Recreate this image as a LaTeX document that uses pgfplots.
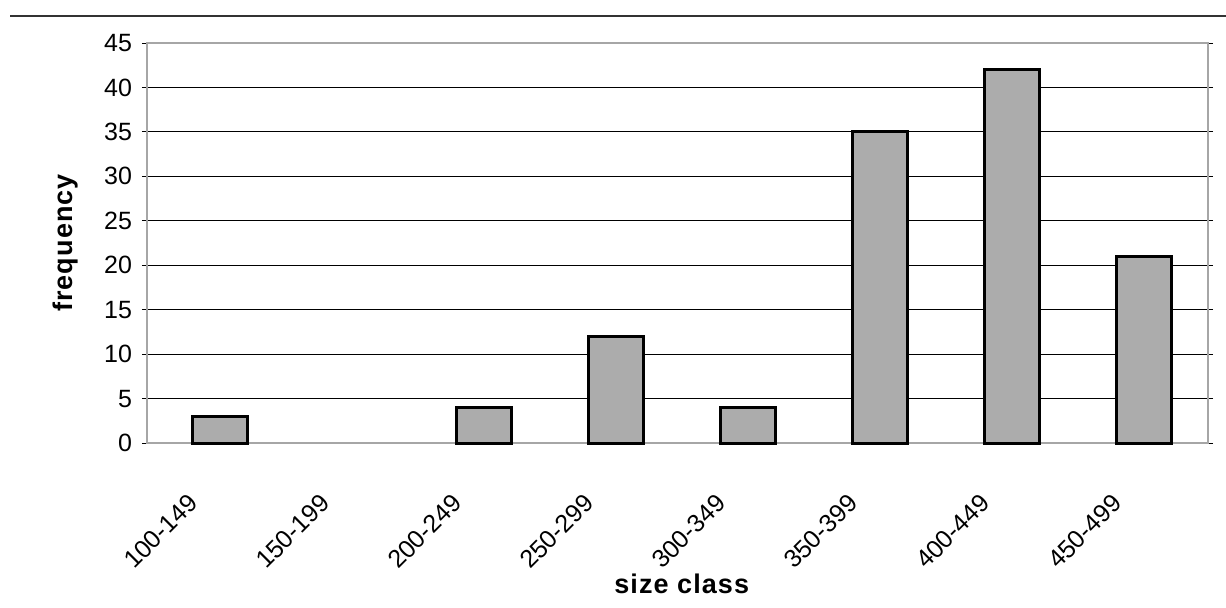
\documentclass[border=0pt]{standalone}
\usepackage{pgfplots}
\pgfplotsset{compat=1.18}
\usepackage{fontspec}
\setmainfont{Liberation Sans}

\begin{document}
\begin{tikzpicture}
\useasboundingbox (-73.5pt,-82pt) rectangle (539.5pt,221.5pt);
\begin{axis}[
    scale only axis,
    width=530.5pt, height=200pt,
    xmin=-0.553, xmax=7.485,
    ymin=0, ymax=45,
    ytick={0,5,...,45},
    xtick={0,...,7},
    xticklabels={100-149,150-199,200-249,250-299,300-349,350-399,400-449,450-499},
    /pgf/number format/assume math mode=true,
    ymajorgrids,
    major grid style={black, line width=0.5pt},
    axis line style={gray!70, line width=1pt},
    tick align=outside,
    major tick length=2.5pt,
    ytick style={black, line width=0.5pt},
    xtick style={draw=none},
    tick label style={font=\fontsize{12.5}{15}\selectfont},
    yticklabel style={xshift=-1.5pt},
    xticklabel style={xshift=-11pt, yshift=-23pt, rotate=45, anchor=east},
    label style={font=\fontsize{13.5}{16}\selectfont\bfseries\addfontfeatures{LetterSpace=4}},
    ylabel={frequency},
    xlabel={size class},
    ylabel style={at={(axis description cs:-0.077,0.5)}, anchor=center},
    xlabel style={at={(axis description cs:0.504,-0.352)}, anchor=center},
    clip=false,
]
% the class 150-199 has no fish, so no bar is drawn
\addplot[ybar, bar width=0.424, fill=gray!65, draw=black, line width=1.5pt]
    coordinates {(0,3) (2,4) (3,12) (4,4) (5,35) (6,42) (7,21)};
% rule at the top of the page
\draw[black!80, line width=0.6pt] (rel axis cs:-0.129,1.0675) -- (rel axis cs:1.017,1.0675);
\end{axis}
\end{tikzpicture}
\end{document}
